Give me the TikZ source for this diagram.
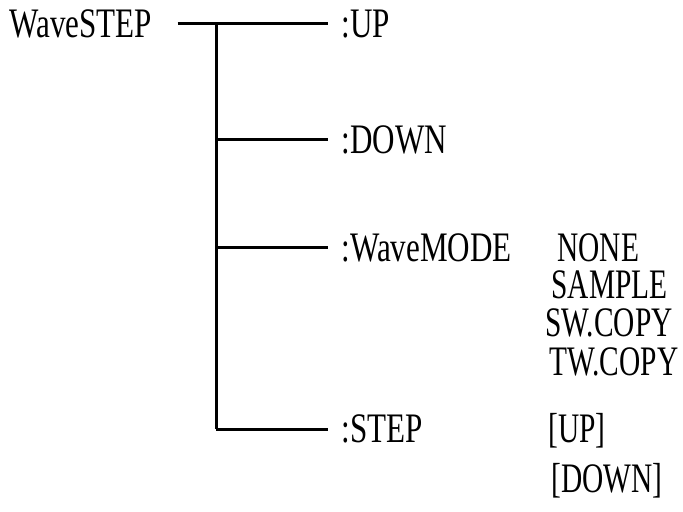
\documentclass[tikz,border=0pt]{standalone}
\usepackage{fontspec}
\setmainfont{Liberation Serif}[FakeStretch=0.74]
\newfontfamily\valfont{Liberation Serif}[FakeStretch=0.7]
\usepackage{tikz}
\usetikzlibrary{positioning}

\begin{document}
\begin{tikzpicture}[x=0.5pt,y=-0.5pt,line width=1.5pt]
  \tikzstyle{cmd}=[inner ysep=0pt,inner xsep=6pt,text height=13.9pt,text depth=0pt,
    anchor=west,font=\fontsize{21}{21}\selectfont]
  \tikzstyle{val}=[cmd,inner xsep=0pt,font=\fontsize{21}{21}\valfont]
  \useasboundingbox (0,0) rectangle (683,512);
  % tree
  \node[cmd,inner xsep=12pt] (root) at (-16,24) {WaveSTEP};
  \coordinate (j0) at (216,24);
  \coordinate (j1) at (216,140);
  \coordinate (j2) at (216,248);
  \coordinate (j3) at (216,429);
  \node[cmd] (up) at (328,24) {:UP};
  \node[cmd] (down) at (328,140) {:DOWN};
  \node[cmd] (wmode) at (328,248) {:WaveMODE};
  \node[cmd] (stp) at (328,429) {:STEP};
  \draw (root.east)--(up.west);
  \draw (j0)--(j3);
  \draw (j1)--(down.west);
  \draw (j2)--(wmode.west);
  \draw (j3)--(stp.west);
  % parameters
  \node[val] (none) at (556,248) {NONE};
  \node[val] (sample) at (550,285) {SAMPLE};
  \node[val] (swcopy) at (544,323) {SW.COPY};
  \node[val] (twcopy) at (548,362) {TW.COPY};
  \node[val] (pup) at (547,429) {[UP]};
  \node[val] (pdown) at (550,479) {[DOWN]};
\end{tikzpicture}
\end{document}
